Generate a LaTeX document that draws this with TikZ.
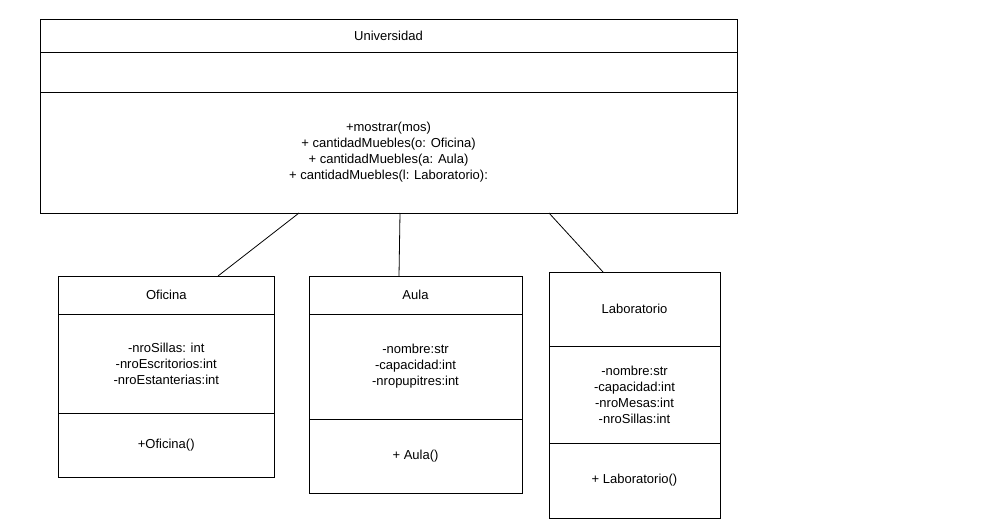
\documentclass[tikz,border=0pt]{standalone}
\usepackage{fontspec}
\setmainfont{Liberation Sans}
\usetikzlibrary{positioning}

\tikzset{
  compartment/.style={draw, rectangle, inner sep=0pt, outer sep=0pt, line width=0.8pt,
    align=center, font=\fontsize{13}{16}\selectfont},
  link/.style={line width=0.8pt}
}

\begin{document}
\begin{tikzpicture}[x=1pt,y=1pt,yscale=-1,xscale=1]
\useasboundingbox (0,0) rectangle (1000,530);

%Class: Universidad
\node [compartment, anchor=north west, minimum width=697pt, minimum height=33pt] (univ) at (40,19) {Universidad};
\node [compartment, minimum width=697pt, minimum height=40pt, below=0pt of univ] (univ attr) {};
\node [compartment, minimum width=697pt, minimum height=121pt, below=0pt of univ attr] (univ ops) {+mostrar(mos)\\ + cantidadMuebles(o: Oficina)\\ + cantidadMuebles(a: Aula)\\ + cantidadMuebles(l: Laboratorio):};

%Class: Oficina
\node [compartment, anchor=north west, minimum width=215.5pt, minimum height=38pt] (ofi) at (58.5,276) {Oficina};
\node [compartment, minimum width=215.5pt, minimum height=99pt, below=0pt of ofi] (ofi attr) {-nroSillas: int\\ -nroEscritorios:int\\ -nroEstanterias:int};
\node [compartment, minimum width=215.5pt, minimum height=64pt, below=0pt of ofi attr] (ofi ops) {+Oficina()};

%Class: Aula
\node [compartment, anchor=north west, minimum width=213pt, minimum height=38pt] (aula) at (309,276) {Aula};
\node [compartment, minimum width=213pt, minimum height=105pt, below=0pt of aula] (aula attr) {-nombre:str\\ -capacidad:int\\ -nropupitres:int};
\node [compartment, minimum width=213pt, minimum height=74pt, below=0pt of aula attr] (aula ops) {+ Aula()};

%Class: Laboratorio
\node [compartment, anchor=north west, minimum width=171pt, minimum height=74pt] (lab) at (549,272) {Laboratorio};
\node [compartment, minimum width=171pt, minimum height=97pt, below=0pt of lab] (lab attr) {-nombre:str\\ -capacidad:int\\ -nroMesas:int\\ -nroSillas:int};
\node [compartment, minimum width=171pt, minimum height=75pt, below=0pt of lab attr] (lab ops) {+ Laboratorio()};

%Links
\draw [link] ([xshift=-89.5pt]univ ops.south) -- ([xshift=51.75pt]ofi.north);
\draw [link] ([xshift=11.5pt]univ ops.south) -- ([xshift=-16.5pt]aula.north);
\draw [link] ([xshift=160.5pt]univ ops.south) -- ([xshift=-31.5pt]lab.north);

\end{tikzpicture}
\end{document}
